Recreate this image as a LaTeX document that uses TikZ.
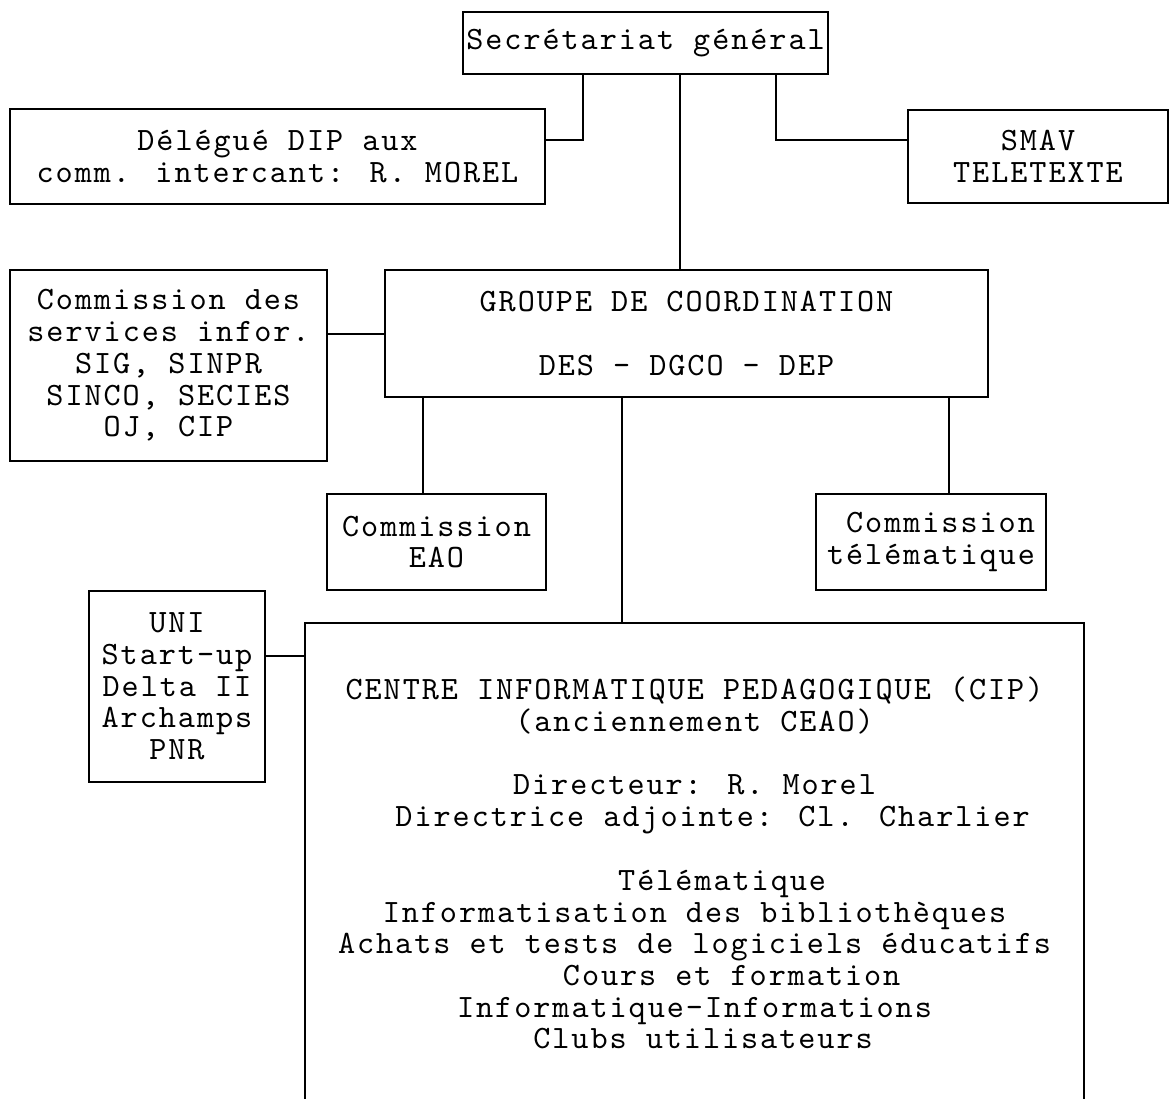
\documentclass[tikz,border=0pt]{standalone}
\usepackage{fontspec}
\usepackage{tikz}
\newfontfamily\tw{lmmono10-regular.otf}[LetterSpace=6]
\tikzset{box/.style={draw, line width=0.8pt, inner sep=0pt, align=center, font=\tw\fontsize{16.3pt}{15.85pt}\selectfont}}

\begin{document}
\begin{tikzpicture}[x=0.5pt,y=-0.5pt,line width=0.8pt]
                \useasboundingbox (0,0) rectangle (1171,1098);
                \node[box, minimum width=182.5pt, minimum height=31pt] (secr) at (645.5,43) {Secrétariat général};
                \node[box, minimum width=267.5pt, minimum height=47.5pt] (dele) at (277.5,156.5) {Délégué DIP aux\\comm. intercant: R. MOREL};
                \node[box, minimum width=130pt, minimum height=46.5pt] (smav) at (1038,156.5) {SMAV\\TELETEXTE};
                \node[box, minimum width=158.5pt, minimum height=95.5pt] (comm) at (168.5,365.5) {Commission des\\services infor.\\SIG, SINPR\\SINCO, SECIES\\OJ, CIP};
                \node[box, minimum width=301.5pt, minimum height=63.5pt] (groupe) at (686.5,333.5) {GROUPE DE COORDINATION\\[16pt]DES - DGCO - DEP};
                \node[box, minimum width=109.5pt, minimum height=48pt] (eao) at (436.5,542) {Commission\\EAO};
                \node[box, align=right, minimum width=115pt, minimum height=48pt] (tele) at (931,542) {Commission\\télématique};
                \node[box, minimum width=88pt, minimum height=95.5pt] (uni) at (177,686.5) {UNI\\Start-up\\Delta II\\Archamps\\PNR};
                \node[box, minimum width=389.5pt, minimum height=240pt] (cip) at (694.5,863) {CENTRE INFORMATIQUE PEDAGOGIQUE (CIP)\\(anciennement CEAO)\\[16pt]Directeur: R. Morel\\\phantom{XX}Directrice adjointe: Cl. Charlier\\[16pt]\phantom{XXX}Télématique\\Informatisation des bibliothèques\\Achats et tests de logiciels éducatifs\\\phantom{XXXX}Cours et formation\\Informatique-Informations\\\phantom{X}Clubs utilisateurs};
                \coordinate (kdele) at (583,140);
                \coordinate (ksmav) at (776,140);
                \coordinate (kmain) at (680,0);
                \coordinate (kcomm) at (0,334);
                \coordinate (keao) at (423,0);
                \coordinate (kcip) at (622,0);
                \coordinate (ktele) at (949,0);
                \coordinate (kuni) at (0,656);
                \draw (secr.south -| kdele) |- (dele.east |- kdele);
                \draw (secr.south -| ksmav) |- (smav.west |- ksmav);
                \draw (secr.south -| kmain) -- (groupe.north -| kmain);
                \draw (comm.east |- kcomm) -- (groupe.west |- kcomm);
                \draw (groupe.south -| keao) -- (eao.north -| keao);
                \draw (groupe.south -| ktele) -- (tele.north -| ktele);
                \draw (groupe.south -| kcip) -- (cip.north -| kcip);
                \draw (uni.east |- kuni) -- (cip.west |- kuni);
            \end{tikzpicture}
\end{document}
